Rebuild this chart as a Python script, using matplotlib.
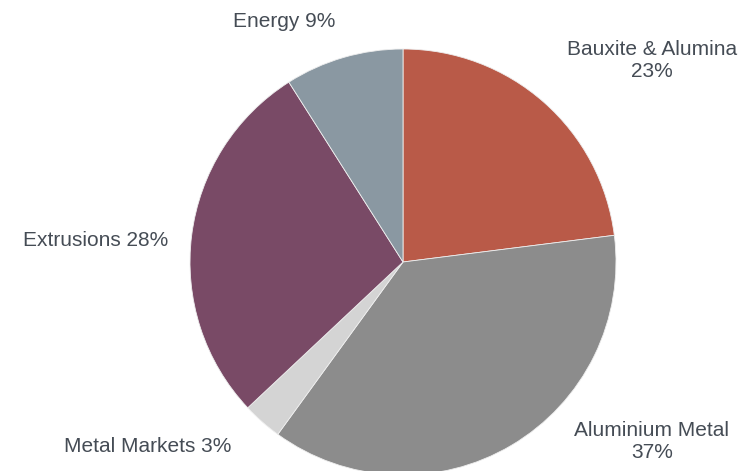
import matplotlib.pyplot as plt

plt.rcParams['font.family'] = ['Liberation Sans', 'DejaVu Sans']

segments = ['Bauxite & Alumina', 'Aluminium Metal', 'Metal Markets', 'Extrusions', 'Energy']
shares = [23, 37, 3, 28, 9]
colors = ['#B95A48', '#8C8C8C', '#D4D4D4', '#794A66', '#8A98A2']

# label anchors in pie units (radius = 1)
label_pos = [(1.168, 0.944), (1.168, -0.845), (-1.197, -0.864), (-1.441, 0.103), (-0.556, 1.127)]
label_text = ['Bauxite & Alumina\n23%', 'Aluminium Metal\n37%', 'Metal Markets 3%',
              'Extrusions 28%', 'Energy 9%']

fig = plt.figure(figsize=(7.4, 4.71), dpi=100)
ax = fig.add_axes([0, 0, 1, 1])
ax.pie(shares, colors=colors, startangle=90, counterclock=False, radius=1,
       wedgeprops=dict(edgecolor='#EEEEEE', linewidth=0.6))

for (x, y), t in zip(label_pos, label_text):
    ax.text(x, y, t, ha='center', va='center', fontsize=15, color='#454C55',
            linespacing=1.2)

s = 213.0
ax.set_xlim(-403 / s, (740 - 403) / s)
ax.set_ylim(-209 / s, (471 - 209) / s)
ax.set_aspect('equal')
ax.axis('off')

fig.savefig('out.png', dpi=100)
